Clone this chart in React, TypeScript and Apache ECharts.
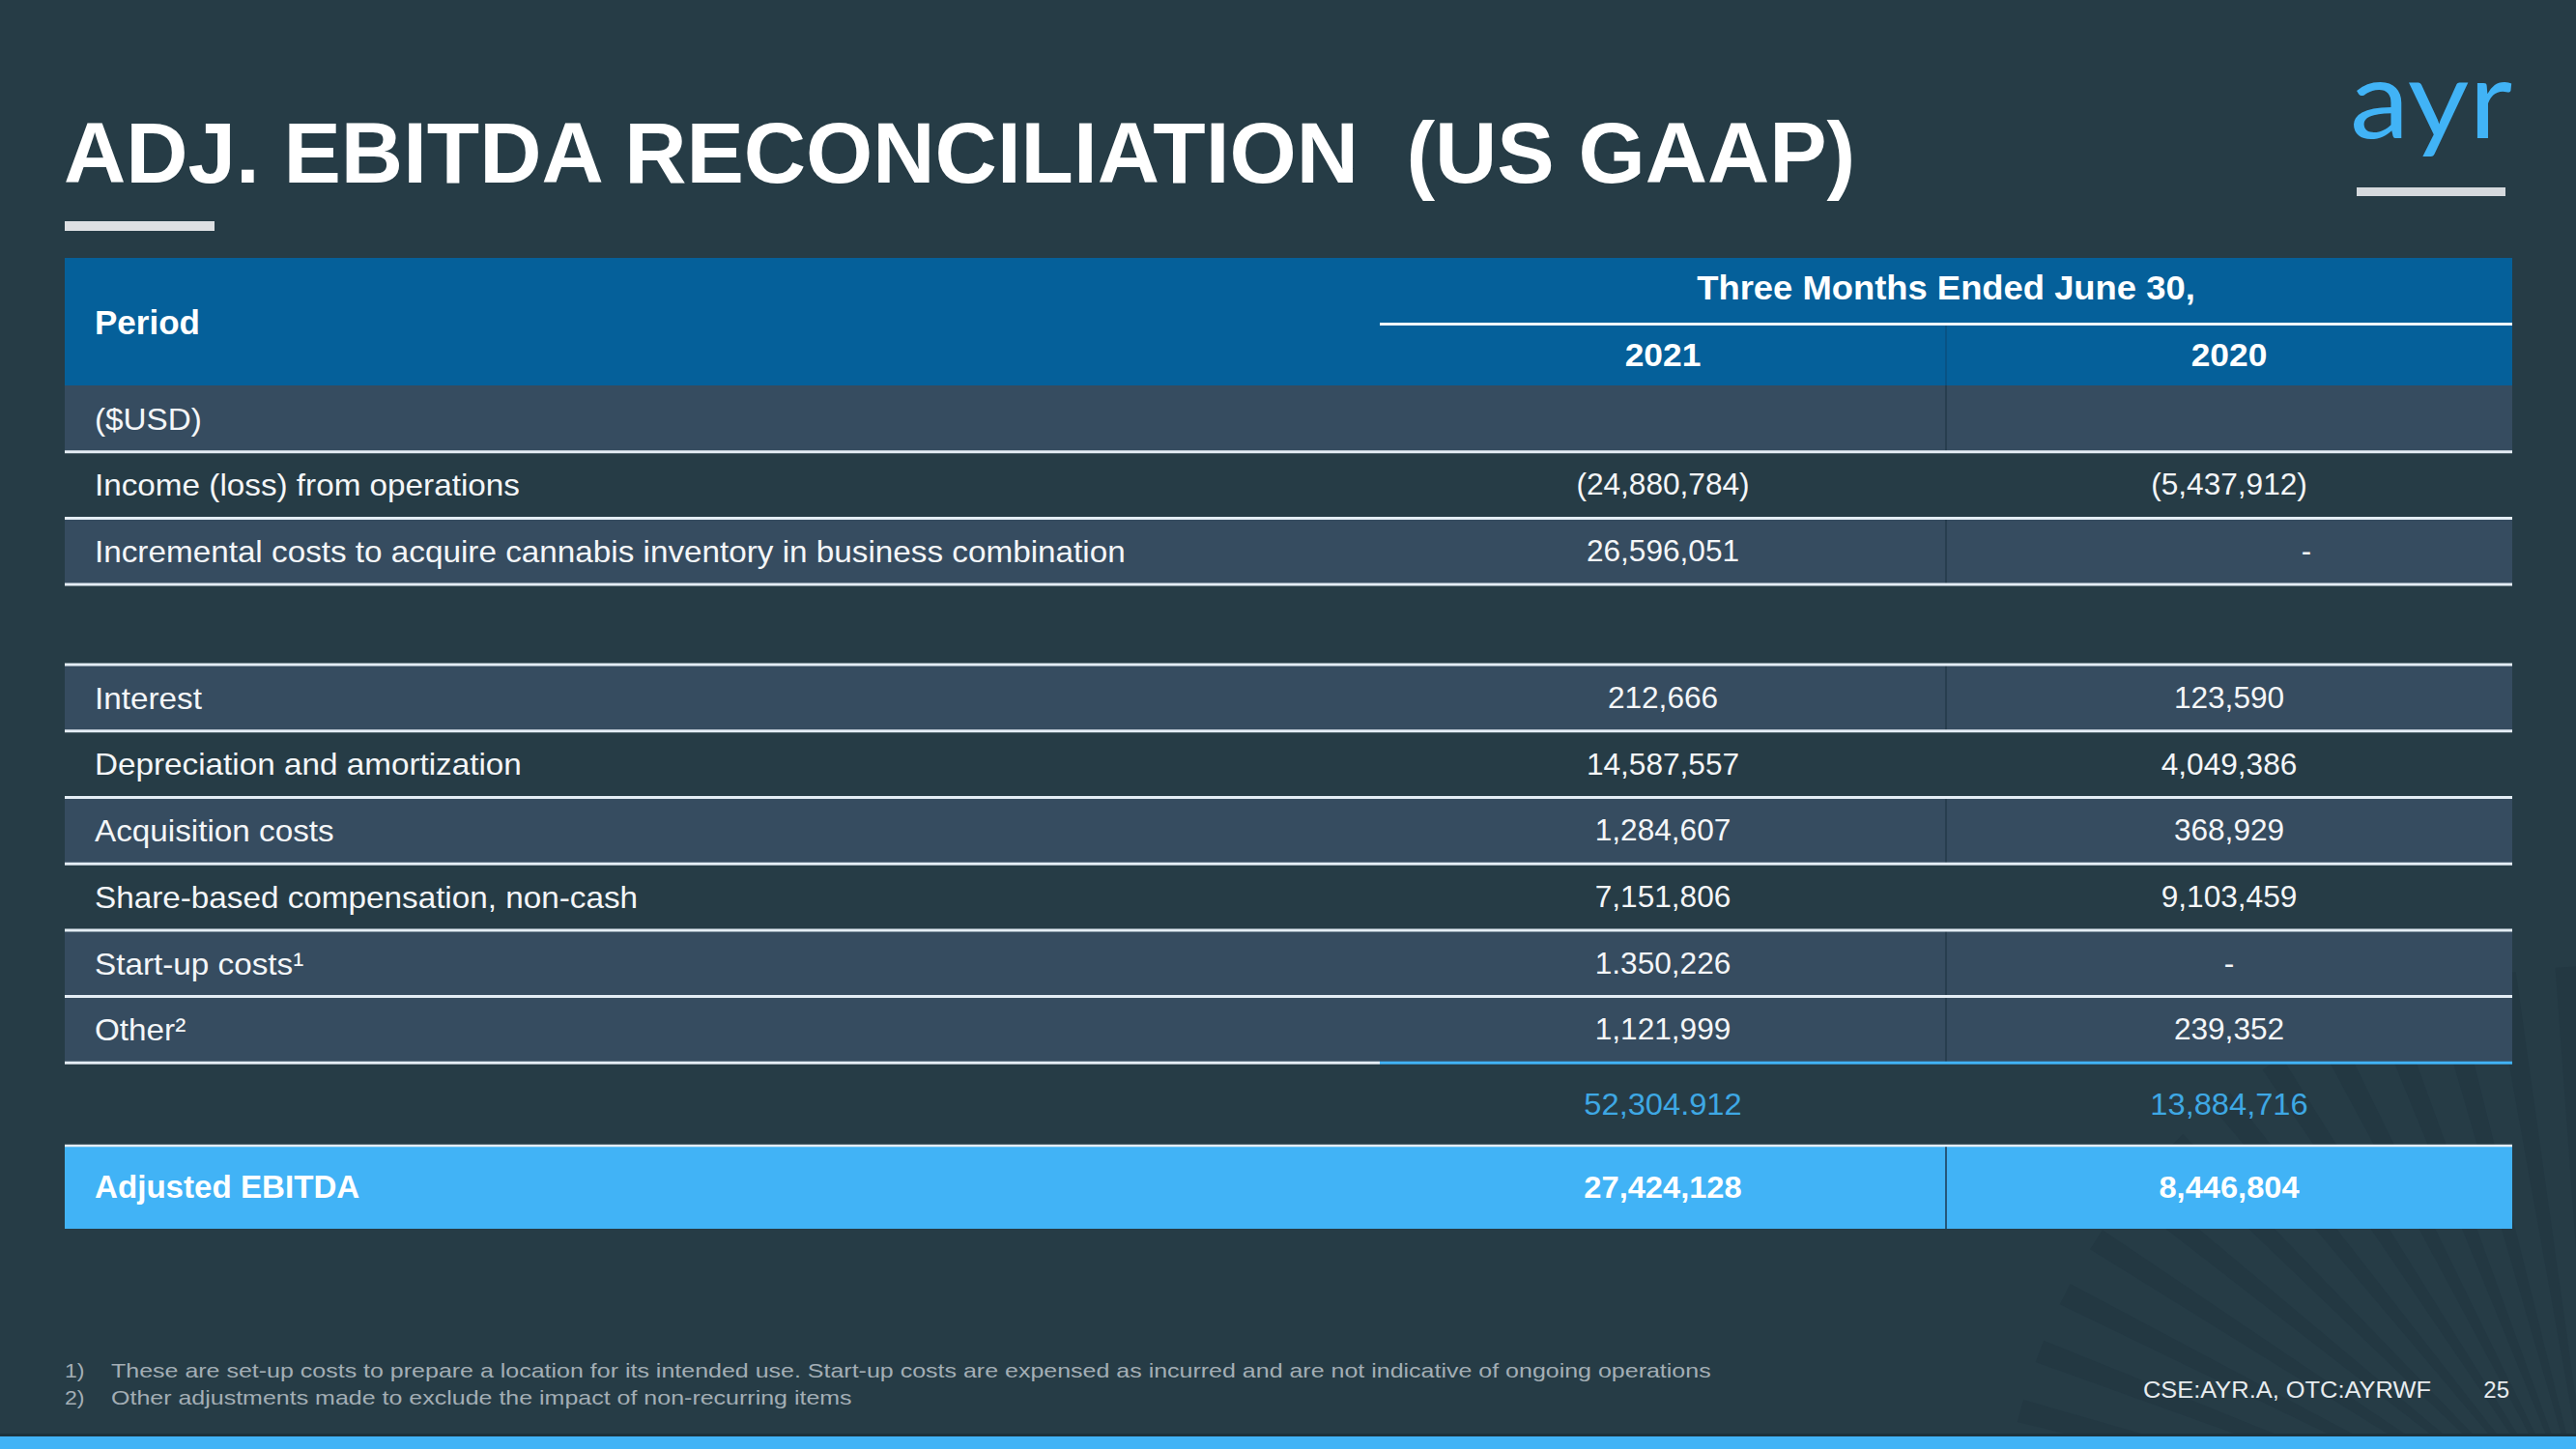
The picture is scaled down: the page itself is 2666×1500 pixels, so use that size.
import React, { useEffect, useRef } from 'react';
import * as echarts from 'echarts';

// ---------- data ----------
const titleText = 'ADJ. EBITDA RECONCILIATION  (US GAAP)';
const logoText = 'ayr';
const periodLabel = 'Period';
const periodHeading = 'Three Months Ended June 30,';
const yearLabels = ['2021', '2020'];
const rowLabels = [
  '($USD)',
  'Income (loss) from operations',
  'Incremental costs to acquire cannabis inventory in business combination',
  '',
  'Interest',
  'Depreciation and amortization',
  'Acquisition costs',
  'Share-based compensation, non-cash',
  'Start-up costs\u00B9',
  'Other\u00B2',
];
const values2021 = ['', '(24,880,784)', '26,596,051', '', '212,666', '14,587,557', '1,284,607', '7,151,806', '1.350,226', '1,121,999'];
const values2020 = ['', '(5,437,912)', '-', '', '123,590', '4,049,386', '368,929', '9,103,459', '-', '239,352'];
const subtotalValues = ['52,304.912', '13,884,716'];
const adjustedLabel = 'Adjusted EBITDA';
const adjustedValues = ['27,424,128', '8,446,804'];
const footnoteMarks = ['1)', '2)'];
const footnoteTexts = [
  'These are set-up costs to prepare a location for its intended use. Start-up costs are expensed as incurred and are not indicative of ongoing operations',
  'Other adjustments made to exclude the impact of non-recurring items',
];
const tickerText = 'CSE:AYR.A, OTC:AYRWF';
const pageNumber = '25';

// ---------- styles ----------
const FAMILY = '"Liberation Sans", Arial, Helvetica, sans-serif';
const C = {
  bg: '#263c46',
  slate: '#364c60',
  header: '#05609a',
  bright: '#41b3f6',
  line: '#e4edf5',
  divider: '#243a4a',
  text: '#f4f6f8',
  subtotal: '#3ea8e4',
  foot: '#a3aeb5',
  rule: '#dde0e3',
};
// shade of each body row (1 = slate band, 0 = page colour)
const rowShade = [1, 0, 1, 0, 1, 0, 1, 0, 1, 1];
// horizontal anchor of the 2020 value in each row
const anchor2020 = ['c', 'c', 'r', 'c', 'c', 'c', 'c', 'c', 'c', 'c'];

function buildElements() {
  const els: any[] = [];
  const rect = (x: number, y: number, w: number, h: number, fill: string) =>
    els.push({ type: 'rect', silent: true, shape: { x, y, width: w, height: h }, style: { fill } });
  const text = (
    x: number,
    y: number,
    t: string,
    size: number,
    fill: string,
    align: string = 'left',
    weight: string = 'normal',
    sx: number = 1,
    family: string = FAMILY
  ) =>
    els.push({
      type: 'text',
      silent: true,
      x,
      y,
      scaleX: sx,
      style: {
        text: t,
        fill,
        font: `${weight} ${size}px ${family}`,
        textAlign: align,
        textVerticalAlign: 'middle',
      },
    });

  // faint starburst in the lower right corner
  const cx = 2690;
  const cy = 1620;
  const R = 620;
  for (let a = 92; a <= 172; a += 6) {
    const a1 = (a * Math.PI) / 180;
    const a2 = ((a + 2.2) * Math.PI) / 180;
    els.push({
      type: 'polygon',
      silent: true,
      shape: {
        points: [
          [cx, cy],
          [cx + R * Math.cos(a1), cy - R * Math.sin(a1)],
          [cx + R * Math.cos(a2), cy - R * Math.sin(a2)],
        ],
      },
      style: { fill: 'rgba(18,34,44,0.13)' },
    });
  }

  // title and logo
  text(66, 158, titleText, 89, '#ffffff', 'left', 'bold');
  rect(67, 229, 155, 10, C.rule);
  text(2600, 100, logoText, 112, C.bright, 'right', 'normal', 1.1, 'Lato, "Noto Sans", sans-serif');
  rect(2439, 194, 154, 9, '#d5d9dd');

  // table geometry
  const L = 67;
  const Rt = 2600;
  const split = 1428;
  const div = 2014;
  const col1 = (split + div) / 2;
  const col2 = (div + Rt) / 2;
  const hTop = 267;
  const hMid = 335.5;
  const hBot = 399;
  const pitch = 68.7;
  const gapPitch = 83;
  const subH = 85.7;
  const adjH = 86;

  // header
  rect(L, hTop, Rt - L, hBot - hTop, C.header);
  rect(div - 0.75, hMid, 1.5, hBot - hMid, '#0a4f7e');
  rect(split, hMid - 1.5, Rt - split, 3, '#f2f6fa');
  text(98, 333, periodLabel, 35, '#ffffff', 'left', 'bold');
  text((split + Rt) / 2, 298, periodHeading, 35, '#ffffff', 'center', 'bold', 1.04);
  text(col1, 367, yearLabels[0], 34, '#ffffff', 'center', 'bold', 1.04);
  text(col2, 367, yearLabels[1], 34, '#ffffff', 'center', 'bold', 1.04);

  // body rows
  let y = hBot;
  const bounds: { top: number; bot: number }[] = [];
  rowLabels.forEach((_, i) => {
    const h = rowLabels[i] === '' && values2021[i] === '' ? gapPitch : pitch;
    bounds.push({ top: y, bot: y + h });
    y += h;
  });
  bounds.forEach((b, i) => {
    if (rowShade[i]) {
      rect(L, b.top, Rt - L, b.bot - b.top, C.slate);
      rect(div - 0.75, b.top, 1.5, b.bot - b.top, C.divider);
    }
  });
  bounds.forEach((b, i) => {
    const last = i === bounds.length - 1;
    if (last) {
      rect(L, b.bot - 1.5, split - L, 3, C.line);
      rect(split, b.bot - 1.5, Rt - split, 3, C.bright);
    } else {
      rect(L, b.bot - 1.5, Rt - L, 3, C.line);
    }
    const cyRow = (b.top + b.bot) / 2;
    if (rowLabels[i]) text(98, cyRow, rowLabels[i], 32, C.text, 'left', 'normal', 1.04);
    if (values2021[i]) text(col1, cyRow, values2021[i], 31, C.text, 'center', 'normal', 1.02);
    if (values2020[i]) {
      if (anchor2020[i] === 'r') text(2392, cyRow, values2020[i], 31, C.text, 'right');
      else text(col2, cyRow, values2020[i], 31, C.text, 'center', 'normal', 1.02);
    }
  });

  // subtotal row
  const subTop = y;
  const subBot = y + subH;
  const subMid = (subTop + subBot) / 2;
  text(col1, subMid, subtotalValues[0], 32, C.subtotal, 'center', 'normal', 1.02);
  text(col2, subMid, subtotalValues[1], 32, C.subtotal, 'center', 'normal', 1.02);

  // adjusted EBITDA row
  const adjTop = subBot;
  const adjBot = adjTop + adjH;
  rect(L, adjTop, Rt - L, adjBot - adjTop, C.bright);
  rect(L, adjTop - 1.25, Rt - L, 2.5, C.line);
  rect(div - 0.75, adjTop + 1.25, 1.5, adjBot - adjTop - 1.25, '#1d3a52');
  const adjMid = (adjTop + adjBot) / 2;
  text(98, adjMid, adjustedLabel, 32.5, '#ffffff', 'left', 'bold', 1.02);
  text(col1, adjMid, adjustedValues[0], 32, '#ffffff', 'center', 'bold', 1.02);
  text(col2, adjMid, adjustedValues[1], 32, '#ffffff', 'center', 'bold', 1.02);

  // footnotes
  const footY = [1419, 1446.5];
  footnoteTexts.forEach((t, i) => {
    text(67, footY[i], footnoteMarks[i], 21, C.foot, 'left', 'normal', 1.1);
    text(115, footY[i], t, 21, C.foot, 'left', 'normal', 1.19);
  });

  // footer
  text(2516, 1438.5, tickerText, 24, '#e8ecef', 'right', 'normal', 1.06);
  text(2597, 1438.5, pageNumber, 24, '#e8ecef', 'right');
  rect(0, 1484, 2666, 3, '#1d323c');
  rect(0, 1487, 2666, 13, C.bright);

  return els;
}

export default function App() {
  const ref = useRef<HTMLDivElement>(null);
  useEffect(() => {
    document.body.style.margin = '0';
    const chart = echarts.init(ref.current as HTMLDivElement, undefined, {
      renderer: 'svg',
      width: 2666,
      height: 1500,
    });
    chart.setOption({
      animation: false,
      backgroundColor: C.bg,
      graphic: { elements: buildElements() },
    });
    return () => chart.dispose();
  }, []);
  return <div ref={ref} style={{ position: 'fixed', left: 0, top: 0, width: 2666, height: 1500 }} />;
}
